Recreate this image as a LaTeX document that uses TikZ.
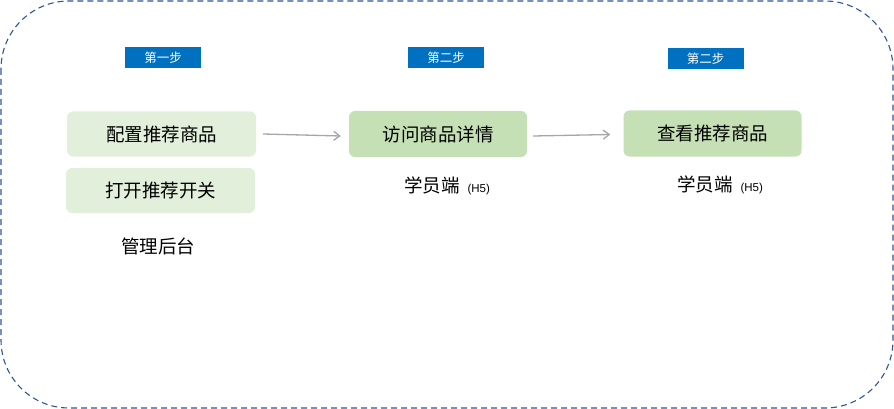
\documentclass[tikz,border=0pt]{standalone}
\usepackage{fontspec}
\setmainfont{Liberation Sans}
\newfontfamily\cjk{Noto Sans CJK SC}
\usetikzlibrary{arrows.meta}
\definecolor{stepblue}{HTML}{0070C0}
\definecolor{lightgreen}{HTML}{E2EFDA}
\definecolor{midgreen}{HTML}{C5E0B4}
\definecolor{frameblue}{HTML}{2F5597}
\definecolor{arrowgray}{HTML}{A6A6A6}
\begin{document}
\begin{tikzpicture}[x=1pt,y=-1pt,
  steplabel/.style={fill=stepblue, text=white, minimum width=76pt, minimum height=21pt, inner sep=0pt, font=\cjk\fontsize{12.5}{13}\selectfont},
  lightbox/.style={fill=lightgreen, rounded corners=6pt, minimum width=189pt, minimum height=45pt, inner sep=0pt, font=\cjk\fontsize{18.5}{20}\selectfont},
  midbox/.style={fill=midgreen, rounded corners=6pt, minimum width=178pt, minimum height=46pt, inner sep=0pt, font=\cjk\fontsize{18.5}{20}\selectfont},
  caption/.style={inner sep=0pt, font=\cjk\fontsize{18.5}{20}\selectfont},
  flow/.style={draw=arrowgray, line width=1.3pt, -{Straight Barb[length=6pt,width=9pt]}}
]
\useasboundingbox (0,0) rectangle (894,409);
\draw[frameblue, line width=1.1pt, dash pattern=on 6pt off 4pt, rounded corners=68pt] (1,1) rectangle (893,408);

\node[steplabel] (s1) at (163,58) {第一步};
\node[steplabel] (s2) at (446,58) {第二步};
\node[steplabel] (s3) at (705.5,59) {第二步};

\node[lightbox] (a) at (161.5,134) {配置推荐商品};
\node[lightbox] (b) at (160.5,190.5) {打开推荐开关};
\node[caption] (ca) at (158,246) {管理后台};

\node[midbox] (c) at (438,134) {访问商品详情};
\node[caption] (cc) at (447,186) {学员端\hspace{8pt}{\fontsize{11.5}{12}\selectfont\rmfamily(H5)}};

\node[midbox] (d) at (712.5,133.5) {查看推荐商品};
\node[caption] (cd) at (720,185) {学员端\hspace{8pt}{\fontsize{11.5}{12}\selectfont\rmfamily(H5)}};

\draw[flow] ([xshift=7pt,yshift=0pt]a.east) -- ([xshift=-8pt,yshift=-2pt]c.west);
\draw[flow] ([xshift=6pt,yshift=-2pt]c.east) -- ([xshift=-13pt,yshift=-1pt]d.west);
\end{tikzpicture}
\end{document}
